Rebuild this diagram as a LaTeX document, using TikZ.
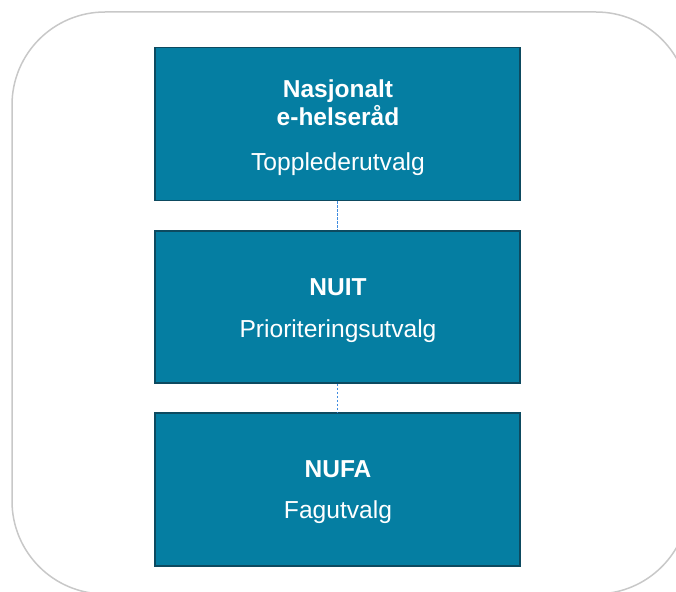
\documentclass[tikz,border=0pt]{standalone}
\usepackage{fontspec}
\setmainfont{Liberation Sans}
\definecolor{boxfill}{HTML}{057EA2}
\definecolor{boxline}{HTML}{0D4A60}
\definecolor{outerline}{HTML}{C8C8C8}
\definecolor{linkblue}{HTML}{3F8CE0}
\tikzset{
  outerframe/.style={draw=outerline, line width=1.5pt, rounded corners=93pt},
  orgbox/.style={draw=boxline, fill=boxfill, line width=1.5pt, minimum width=365pt, inner sep=0pt},
  titletext/.style={text=white, anchor=base, font=\bfseries\fontsize{24.5}{28}\selectfont, inner sep=0pt},
  subtext/.style={text=white, anchor=base, font=\fontsize{24.6}{28}\selectfont, inner sep=0pt},
  link/.style={draw=linkblue, line width=1pt, dash pattern=on 2.5pt off 1.5pt}
}
\begin{document}
\begin{tikzpicture}[x=1pt,y=-1pt]
\useasboundingbox (0,0) rectangle (676,591);
\draw[outerframe] (12,12) rectangle (689,594);
\node[orgbox, minimum height=153pt] (b1) at (337.5,124) {};
\node[orgbox, minimum height=152pt] (b2) at (337.5,307) {};
\node[orgbox, minimum height=153pt] (b3) at (337.5,489.5) {};
\draw[link] (b1.south) -- (b2.north);
\draw[link] (b2.south) -- (b3.north);
\node[titletext] (t1a) at (338,97) {Nasjonalt};
\node[titletext] (t1b) at (338,125) {e-helseråd};
\node[subtext] (t1c) at (338,170) {Topplederutvalg};
\node[titletext] (t2a) at (338,295) {NUIT};
\node[subtext] (t2b) at (338,337) {Prioriteringsutvalg};
\node[titletext] (t3a) at (338,477) {NUFA};
\node[subtext] (t3b) at (338,518) {Fagutvalg};
\end{tikzpicture}
\end{document}
